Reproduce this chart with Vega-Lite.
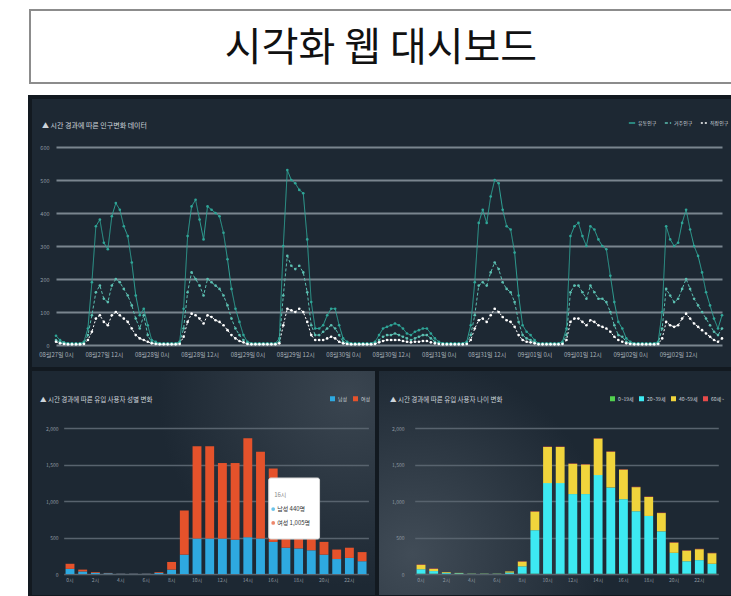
{
  "$schema": "https://vega.github.io/schema/vega-lite/v6.json",
  "background": "white",
  "padding": {"left": 28, "top": 9, "right": 0, "bottom": 0},
  "config": {
    "font": "Noto Sans CJK KR",
    "view": {"stroke": null},
    "axis": {"labelFont": "Noto Sans CJK KR", "domain": false, "ticks": false, "title": null},
    "legend": {"labelFont": "Noto Sans CJK KR"},
    "title": {"font": "Noto Sans CJK KR"}
  },
  "resolve": {"scale": {"color": "independent", "strokeDash": "independent"}, "legend": {"color": "independent", "strokeDash": "independent"}},
  "datasets": {
    "pop": [
      {"h":0,"유동인구":28,"거주인구":15,"직장인구":10},{"h":1,"유동인구":15,"거주인구":8,"직장인구":5},{"h":2,"유동인구":8,"거주인구":5,"직장인구":3},{"h":3,"유동인구":5,"거주인구":3,"직장인구":2},{"h":4,"유동인구":5,"거주인구":3,"직장인구":2},{"h":5,"유동인구":5,"거주인구":3,"직장인구":2},{"h":6,"유동인구":5,"거주인구":3,"직장인구":2},{"h":7,"유동인구":10,"거주인구":5,"직장인구":3},{"h":8,"유동인구":50,"거주인구":30,"직장인구":15},{"h":9,"유동인구":190,"거주인구":90,"직장인구":40},{"h":10,"유동인구":360,"거주인구":160,"직장인구":80},{"h":11,"유동인구":380,"거주인구":180,"직장인구":90},{"h":12,"유동인구":310,"거주인구":140,"직장인구":70},{"h":13,"유동인구":290,"거주인구":130,"직장인구":60},{"h":14,"유동인구":390,"거주인구":180,"직장인구":90},{"h":15,"유동인구":430,"거주인구":200,"직장인구":100},{"h":16,"유동인구":410,"거주인구":190,"직장인구":90},{"h":17,"유동인구":360,"거주인구":170,"직장인구":80},{"h":18,"유동인구":330,"거주인구":150,"직장인구":70},{"h":19,"유동인구":250,"거주인구":120,"직장인구":50},{"h":20,"유동인구":150,"거주인구":80,"직장인구":30},{"h":21,"유동인구":90,"거주인구":50,"직장인구":20},{"h":22,"유동인구":110,"거주인구":90,"직장인구":15},{"h":23,"유동인구":60,"거주인구":30,"직장인구":10},
      {"h":24,"유동인구":15,"거주인구":8,"직장인구":5},{"h":25,"유동인구":10,"거주인구":5,"직장인구":3},{"h":26,"유동인구":5,"거주인구":3,"직장인구":2},{"h":27,"유동인구":5,"거주인구":3,"직장인구":2},{"h":28,"유동인구":5,"거주인구":3,"직장인구":2},{"h":29,"유동인구":5,"거주인구":3,"직장인구":2},{"h":30,"유동인구":5,"거주인구":3,"직장인구":2},{"h":31,"유동인구":10,"거주인구":5,"직장인구":3},{"h":32,"유동인구":110,"거주인구":50,"직장인구":25},{"h":33,"유동인구":330,"거주인구":160,"직장인구":70},{"h":34,"유동인구":420,"거주인구":220,"직장인구":95},{"h":35,"유동인구":440,"거주인구":200,"직장인구":90},{"h":36,"유동인구":380,"거주인구":180,"직장인구":80},{"h":37,"유동인구":320,"거주인구":150,"직장인구":65},{"h":38,"유동인구":420,"거주인구":200,"직장인구":90},{"h":39,"유동인구":410,"거주인구":190,"직장인구":85},{"h":40,"유동인구":400,"거주인구":180,"직장인구":75},{"h":41,"유동인구":390,"거주인구":170,"직장인구":70},{"h":42,"유동인구":340,"거주인구":150,"직장인구":60},{"h":43,"유동인구":260,"거주인구":120,"직장인구":45},{"h":44,"유동인구":170,"거주인구":80,"직장인구":30},{"h":45,"유동인구":110,"거주인구":50,"직장인구":20},{"h":46,"유동인구":70,"거주인구":30,"직장인구":12},{"h":47,"유동인구":30,"거주인구":15,"직장인구":8},
      {"h":48,"유동인구":10,"거주인구":5,"직장인구":3},{"h":49,"유동인구":5,"거주인구":3,"직장인구":2},{"h":50,"유동인구":5,"거주인구":3,"직장인구":2},{"h":51,"유동인구":5,"거주인구":3,"직장인구":2},{"h":52,"유동인구":5,"거주인구":3,"직장인구":2},{"h":53,"유동인구":5,"거주인구":3,"직장인구":2},{"h":54,"유동인구":5,"거주인구":3,"직장인구":2},{"h":55,"유동인구":5,"거주인구":3,"직장인구":2},{"h":56,"유동인구":20,"거주인구":10,"직장인구":5},{"h":57,"유동인구":300,"거주인구":150,"직장인구":60},{"h":58,"유동인구":530,"거주인구":270,"직장인구":110},{"h":59,"유동인구":500,"거주인구":240,"직장인구":105},{"h":60,"유동인구":490,"거주인구":230,"직장인구":100},{"h":61,"유동인구":470,"거주인구":240,"직장인구":110},{"h":62,"유동인구":460,"거주인구":220,"직장인구":100},{"h":63,"유동인구":320,"거주인구":160,"직장인구":70},{"h":64,"유동인구":130,"거주인구":60,"직장인구":30},{"h":65,"유동인구":50,"거주인구":30,"직장인구":15},{"h":66,"유동인구":50,"거주인구":30,"직장인구":15},{"h":67,"유동인구":60,"거주인구":40,"직장인구":15},{"h":68,"유동인구":90,"거주인구":50,"직장인구":20},{"h":69,"유동인구":110,"거주인구":60,"직장인구":25},{"h":70,"유동인구":110,"거주인구":50,"직장인구":20},{"h":71,"유동인구":60,"거주인구":30,"직장인구":10},
      {"h":72,"유동인구":20,"거주인구":10,"직장인구":5},{"h":73,"유동인구":10,"거주인구":5,"직장인구":3},{"h":74,"유동인구":5,"거주인구":3,"직장인구":2},{"h":75,"유동인구":5,"거주인구":3,"직장인구":2},{"h":76,"유동인구":5,"거주인구":3,"직장인구":2},{"h":77,"유동인구":5,"거주인구":3,"직장인구":2},{"h":78,"유동인구":5,"거주인구":3,"직장인구":2},{"h":79,"유동인구":5,"거주인구":3,"직장인구":2},{"h":80,"유동인구":10,"거주인구":5,"직장인구":3},{"h":81,"유동인구":30,"거주인구":15,"직장인구":8},{"h":82,"유동인구":50,"거주인구":25,"직장인구":12},{"h":83,"유동인구":55,"거주인구":30,"직장인구":15},{"h":84,"유동인구":60,"거주인구":30,"직장인구":15},{"h":85,"유동인구":65,"거주인구":35,"직장인구":15},{"h":86,"유동인구":60,"거주인구":30,"직장인구":15},{"h":87,"유동인구":50,"거주인구":25,"직장인구":12},{"h":88,"유동인구":35,"거주인구":20,"직장인구":10},{"h":89,"유동인구":30,"거주인구":15,"직장인구":8},{"h":90,"유동인구":40,"거주인구":20,"직장인구":10},{"h":91,"유동인구":45,"거주인구":25,"직장인구":10},{"h":92,"유동인구":50,"거주인구":30,"직장인구":12},{"h":93,"유동인구":50,"거주인구":30,"직장인구":12},{"h":94,"유동인구":35,"거주인구":20,"직장인구":8},{"h":95,"유동인구":20,"거주인구":10,"직장인구":5},
      {"h":96,"유동인구":10,"거주인구":5,"직장인구":3},{"h":97,"유동인구":5,"거주인구":3,"직장인구":2},{"h":98,"유동인구":5,"거주인구":3,"직장인구":2},{"h":99,"유동인구":5,"거주인구":3,"직장인구":2},{"h":100,"유동인구":5,"거주인구":3,"직장인구":2},{"h":101,"유동인구":5,"거주인구":3,"직장인구":2},{"h":102,"유동인구":5,"거주인구":3,"직장인구":2},{"h":103,"유동인구":10,"거주인구":5,"직장인구":3},{"h":104,"유동인구":60,"거주인구":30,"직장인구":15},{"h":105,"유동인구":190,"거주인구":90,"직장인구":50},{"h":106,"유동인구":370,"거주인구":180,"직장인구":75},{"h":107,"유동인구":410,"거주인구":190,"직장인구":80},{"h":108,"유동인구":370,"거주인구":180,"직장인구":70},{"h":109,"유동인구":450,"거주인구":220,"직장인구":90},{"h":110,"유동인구":500,"거주인구":250,"직장인구":110},{"h":111,"유동인구":490,"거주인구":230,"직장인구":100},{"h":112,"유동인구":410,"거주인구":190,"직장인구":85},{"h":113,"유동인구":360,"거주인구":170,"직장인구":75},{"h":114,"유동인구":350,"거주인구":160,"직장인구":70},{"h":115,"유동인구":280,"거주인구":130,"직장인구":55},{"h":116,"유동인구":150,"거주인구":70,"직장인구":30},{"h":117,"유동인구":60,"거주인구":30,"직장인구":15},{"h":118,"유동인구":40,"거주인구":20,"직장인구":10},{"h":119,"유동인구":30,"거주인구":15,"직장인구":8},
      {"h":120,"유동인구":15,"거주인구":8,"직장인구":5},{"h":121,"유동인구":5,"거주인구":3,"직장인구":2},{"h":122,"유동인구":5,"거주인구":3,"직장인구":2},{"h":123,"유동인구":5,"거주인구":3,"직장인구":2},{"h":124,"유동인구":5,"거주인구":3,"직장인구":2},{"h":125,"유동인구":5,"거주인구":3,"직장인구":2},{"h":126,"유동인구":5,"거주인구":3,"직장인구":2},{"h":127,"유동인구":10,"거주인구":5,"직장인구":3},{"h":128,"유동인구":50,"거주인구":30,"직장인구":15},{"h":129,"유동인구":330,"거주인구":160,"직장인구":70},{"h":130,"유동인구":360,"거주인구":180,"직장인구":80},{"h":131,"유동인구":370,"거주인구":180,"직장인구":80},{"h":132,"유동인구":330,"거주인구":160,"직장인구":70},{"h":133,"유동인구":300,"거주인구":140,"직장인구":60},{"h":134,"유동인구":360,"거주인구":180,"직장인구":75},{"h":135,"유동인구":350,"거주인구":160,"직장인구":70},{"h":136,"유동인구":320,"거주인구":140,"직장인구":60},{"h":137,"유동인구":300,"거주인구":140,"직장인구":55},{"h":138,"유동인구":290,"거주인구":130,"직장인구":50},{"h":139,"유동인구":210,"거주인구":100,"직장인구":40},{"h":140,"유동인구":130,"거주인구":60,"직장인구":25},{"h":141,"유동인구":70,"거주인구":30,"직장인구":15},{"h":142,"유동인구":50,"거주인구":25,"직장인구":10},{"h":143,"유동인구":20,"거주인구":10,"직장인구":5},
      {"h":144,"유동인구":10,"거주인구":5,"직장인구":3},{"h":145,"유동인구":5,"거주인구":3,"직장인구":2},{"h":146,"유동인구":5,"거주인구":3,"직장인구":2},{"h":147,"유동인구":5,"거주인구":3,"직장인구":2},{"h":148,"유동인구":5,"거주인구":3,"직장인구":2},{"h":149,"유동인구":5,"거주인구":3,"직장인구":2},{"h":150,"유동인구":5,"거주인구":3,"직장인구":2},{"h":151,"유동인구":10,"거주인구":5,"직장인구":3},{"h":152,"유동인구":100,"거주인구":50,"직장인구":20},{"h":153,"유동인구":360,"거주인구":170,"직장인구":70},{"h":154,"유동인구":320,"거주인구":150,"직장인구":60},{"h":155,"유동인구":300,"거주인구":130,"직장인구":55},{"h":156,"유동인구":310,"거주인구":140,"직장인구":60},{"h":157,"유동인구":370,"거주인구":170,"직장인구":80},{"h":158,"유동인구":410,"거주인구":200,"직장인구":95},{"h":159,"유동인구":350,"거주인구":170,"직장인구":80},{"h":160,"유동인구":300,"거주인구":140,"직장인구":65},{"h":161,"유동인구":270,"거주인구":120,"직장인구":55},{"h":162,"유동인구":220,"거주인구":100,"직장인구":45},{"h":163,"유동인구":160,"거주인구":80,"직장인구":35},{"h":164,"유동인구":120,"거주인구":60,"직장인구":25},{"h":165,"유동인구":80,"거주인구":40,"직장인구":15},{"h":166,"유동인구":50,"거주인구":30,"직장인구":10},{"h":167,"유동인구":90,"거주인구":50,"직장인구":20}
    ],
    "gender": [
      {"시간":"0시","남성":70,"여성":70},{"시간":"1시","남성":35,"여성":25},{"시간":"2시","남성":15,"여성":10},{"시간":"3시","남성":10,"여성":5},{"시간":"4시","남성":3,"여성":2},{"시간":"5시","남성":3,"여성":2},{"시간":"6시","남성":3,"여성":2},{"시간":"7시","남성":15,"여성":10},{"시간":"8시","남성":60,"여성":105},{"시간":"9시","남성":265,"여성":605},{"시간":"10시","남성":485,"여성":1265},{"시간":"11시","남성":485,"여성":1265},{"시간":"12시","남성":485,"여성":1035},{"시간":"13시","남성":470,"여성":1050},{"시간":"14시","남성":505,"여성":1355},{"시간":"15시","남성":485,"여성":1190},{"시간":"16시","남성":440,"여성":1005},{"시간":"17시","남성":360,"여성":835},{"시간":"18시","남성":350,"여성":710},{"시간":"19시","남성":325,"여성":515},{"시간":"20시","남성":265,"여성":175},{"시간":"21시","남성":205,"여성":130},{"시간":"22시","남성":220,"여성":140},{"시간":"23시","남성":175,"여성":125}
    ],
    "age": [
      {"시간":"0시","0~19세":5,"20~39세":60,"40~59세":60,"60세~":5},{"시간":"1시","0~19세":5,"20~39세":35,"40~59세":30,"60세~":5},{"시간":"2시","0~19세":3,"20~39세":12,"40~59세":10,"60세~":0},{"시간":"3시","0~19세":2,"20~39세":8,"40~59세":5,"60세~":0},{"시간":"4시","0~19세":1,"20~39세":2,"40~59세":2,"60세~":0},{"시간":"5시","0~19세":1,"20~39세":2,"40~59세":2,"60세~":0},{"시간":"6시","0~19세":1,"20~39세":2,"40~59세":2,"60세~":0},{"시간":"7시","0~19세":2,"20~39세":18,"40~59세":15,"60세~":0},{"시간":"8시","0~19세":5,"20~39세":100,"40~59세":65,"60세~":5},{"시간":"9시","0~19세":5,"20~39세":595,"40~59세":255,"60세~":5},{"시간":"10시","0~19세":5,"20~39세":1240,"40~59세":495,"60세~":5},{"시간":"11시","0~19세":5,"20~39세":1240,"40~59세":495,"60세~":5},{"시간":"12시","0~19세":5,"20~39세":1090,"40~59세":415,"60세~":5},{"시간":"13시","0~19세":5,"20~39세":1090,"40~59세":405,"60세~":5},{"시간":"14시","0~19세":5,"20~39세":1350,"40~59세":500,"60세~":5},{"시간":"15시","0~19세":5,"20~39세":1180,"40~59세":490,"60세~":5},{"시간":"16시","0~19세":5,"20~39세":1020,"40~59세":405,"60세~":5},{"시간":"17시","0~19세":5,"20~39세":855,"40~59세":330,"60세~":5},{"시간":"18시","0~19세":5,"20~39세":790,"40~59세":260,"60세~":5},{"시간":"19시","0~19세":5,"20~39세":580,"40~59세":250,"60세~":5},{"시간":"20시","0~19세":5,"20~39세":285,"40~59세":140,"60세~":5},{"시간":"21시","0~19세":5,"20~39세":170,"40~59세":145,"60세~":5},{"시간":"22시","0~19세":5,"20~39세":185,"40~59세":150,"60세~":5},{"시간":"23시","0~19세":5,"20~39세":135,"40~59세":145,"60세~":5}
    ]
  },
  "spacing": 14,
  "bounds": "flush",
  "vconcat": [
    {
      "width": 702,
      "height": 73,
      "view": {"fill": "white", "stroke": "#8c8c8c", "strokeWidth": 2},
      "data": {"values": [{"제목": "시각화 웹 대시보드"}]},
      "mark": {"type": "text", "fontSize": 40, "color": "#111111", "dy": 2, "font": "Noto Sans CJK KR"},
      "encoding": {"text": {"field": "제목", "type": "nominal"}}
    },
    {
      "spacing": 0,
      "bounds": "flush",
      "resolve": {"scale": {"color": "independent", "strokeDash": "independent"}, "legend": {"color": "independent", "strokeDash": "independent"}},
      "vconcat": [
        {
          "width": 703,
          "height": 272,
          "view": {"fill": "#1d2833", "stroke": "#121920", "strokeWidth": 4},
          "title": {"text": "▲ 시간 경과에 따른 인구변화 데이터", "anchor": "start", "orient": "top", "offset": -32, "dx": 12, "fontSize": 7, "fontWeight": "normal", "color": "#cdd4da"},
          "data": {"name": "pop"},
          "transform": [{"fold": ["유동인구", "거주인구", "직장인구"], "as": ["구분", "인구"]}],
          "mark": {"type": "line", "strokeWidth": 1, "point": {"filled": true, "size": 7}},
          "encoding": {
            "x": {
              "field": "h", "type": "quantitative",
              "scale": {"domain": [0, 167], "range": [26, 692], "nice": false, "zero": false},
              "axis": {
                "orient": "bottom", "offset": -22, "grid": false, "values": [0,12,24,36,48,60,72,84,96,108,120,132,144,156],
                "labelExpr": "['08월27일 0시','08월27일 12시','08월28일 0시','08월28일 12시','08월29일 0시','08월29일 12시','08월30일 0시','08월30일 12시','08월31일 0시','08월31일 12시','09월01일 0시','09월01일 12시','09월02일 0시','09월02일 12시'][round(datum.value/12)]",
                "labelFontSize": 6, "labelColor": "#a9b2ba", "labelPadding": 4, "labelAlign": "center"
              }
            },
            "y": {
              "field": "인구", "type": "quantitative",
              "scale": {"domain": [0, 600], "range": [248, 50], "nice": false},
              "axis": {
                "orient": "left", "offset": -22, "values": [0,100,200,300,400,500,600], "grid": true,
                "gridColor": "#7a858f", "gridWidth": 2, "labelFontSize": 5.5, "labelColor": "#8f99a2", "labelPadding": 3
              }
            },
            "color": {
              "field": "구분", "type": "nominal",
              "scale": {"domain": ["유동인구", "거주인구", "직장인구"], "range": ["#2fa597", "#5bbfb1", "#ffffff"]},
              "legend": {"orient": "none", "legendX": 598, "legendY": 22, "direction": "horizontal", "title": null, "labelFontSize": 5, "labelColor": "#cdd4da", "symbolType": "stroke", "symbolSize": 40, "symbolStrokeWidth": 1.5, "labelOffset": 2, "columnPadding": 4}
            },
            "strokeDash": {
              "field": "구분", "type": "nominal",
              "scale": {"domain": ["유동인구", "거주인구", "직장인구"], "range": [[1, 0], [3, 2], [2, 2]]}
            }
          }
        },
        {
          "spacing": 0,
          "bounds": "flush",
          "resolve": {"scale": {"color": "independent"}, "legend": {"color": "independent"}},
          "hconcat": [
            {
              "width": 347,
              "height": 228,
              "view": {
                "fill": {"gradient": "radial", "x1": 0.92, "y1": 0.25, "r1": 0, "x2": 0.92, "y2": 0.25, "r2": 0.55, "stops": [{"offset": 0, "color": "#3a4550"}, {"offset": 1, "color": "#1d2833"}]},
                "stroke": "#121920", "strokeWidth": 4
              },
              "title": {"text": "▲ 시간 경과에 따른 유입 사용자 성별 변화", "anchor": "start", "orient": "top", "offset": -34, "dx": 10, "fontSize": 6.5, "fontWeight": "normal", "color": "#cdd4da"},
              "layer": [
                {
                  "data": {"name": "gender"},
                  "transform": [{"fold": ["남성", "여성"], "as": ["성별", "명"]}],
                  "mark": {"type": "bar"},
                  "encoding": {
                    "x": {
                      "field": "시간", "type": "ordinal", "sort": null,
                      "scale": {"range": [33.65, 338.45], "paddingInner": 0.3, "paddingOuter": 0.15},
                      "axis": {"orient": "bottom", "offset": -23, "labelAngle": 0, "values": ["0시","2시","4시","6시","8시","10시","12시","14시","16시","18시","20시","22시"], "labelFontSize": 5, "labelColor": "#8f99a2", "labelPadding": 3}
                    },
                    "y": {
                      "field": "명", "type": "quantitative", "stack": "zero",
                      "scale": {"domain": [0, 2000], "range": [205, 59], "nice": false},
                      "axis": {"orient": "left", "offset": -31, "values": [0,500,1000,1500,2000], "grid": true, "gridColor": "#58636e", "gridWidth": 1.5, "labelFontSize": 5, "labelColor": "#8f99a2", "labelPadding": 3}
                    },
                    "color": {
                      "field": "성별", "type": "nominal",
                      "scale": {"domain": ["남성", "여성"], "range": ["#2ea9e0", "#e5522b"]},
                      "legend": {"orient": "none", "legendX": 299, "legendY": 26, "direction": "horizontal", "title": null, "labelFontSize": 5, "labelColor": "#cdd4da", "symbolType": "square", "symbolSize": 25, "labelOffset": 2, "columnPadding": 4}
                    },
                    "order": {"field": "성별", "sort": "ascending"}
                  }
                },
                {
                  "data": {"values": [{}]},
                  "mark": {"type": "rect", "fill": "#ffffff", "stroke": "#d8d8d8", "strokeWidth": 1, "cornerRadius": 2},
                  "encoding": {
                    "x": {"datum": "16시", "type": "ordinal", "bandPosition": 0},
                    "x2": {"datum": "20시", "bandPosition": 0},
                    "y": {"datum": 1315, "type": "quantitative"},
                    "y2": {"datum": 479}
                  }
                },
                {
                  "data": {"values": [{}]},
                  "mark": {"type": "text", "align": "left", "fontSize": 6, "color": "#888888", "dx": 1},
                  "encoding": {
                    "x": {"datum": "16시", "type": "ordinal"},
                    "y": {"datum": 1082, "type": "quantitative"},
                    "text": {"value": "16시"}
                  }
                },
                {
                  "data": {"values": [{}]},
                  "mark": {"type": "point", "filled": true, "size": 14, "color": "#2ea9e0"},
                  "encoding": {
                    "x": {"datum": "16시", "type": "ordinal"},
                    "y": {"datum": 890, "type": "quantitative"}
                  }
                },
                {
                  "data": {"values": [{}]},
                  "mark": {"type": "text", "align": "left", "fontSize": 6, "color": "#333333", "dx": 4},
                  "encoding": {
                    "x": {"datum": "16시", "type": "ordinal"},
                    "y": {"datum": 890, "type": "quantitative"},
                    "text": {"value": "남성 440명"}
                  }
                },
                {
                  "data": {"values": [{}]},
                  "mark": {"type": "point", "filled": true, "size": 14, "color": "#e5522b"},
                  "encoding": {
                    "x": {"datum": "16시", "type": "ordinal"},
                    "y": {"datum": 699, "type": "quantitative"}
                  }
                },
                {
                  "data": {"values": [{}]},
                  "mark": {"type": "text", "align": "left", "fontSize": 6, "color": "#333333", "dx": 4},
                  "encoding": {
                    "x": {"datum": "16시", "type": "ordinal"},
                    "y": {"datum": 699, "type": "quantitative"},
                    "text": {"value": "여성 1,005명"}
                  }
                }
              ]
            },
            {
              "width": 356,
              "height": 228,
              "view": {
                "fill": {"gradient": "radial", "x1": 0.1, "y1": 0.7, "r1": 0, "x2": 0.1, "y2": 0.7, "r2": 0.55, "stops": [{"offset": 0, "color": "#414c57"}, {"offset": 1, "color": "#1d2833"}]},
                "stroke": "#121920", "strokeWidth": 4
              },
              "title": {"text": "▲ 시간 경과에 따른 유입 사용자 나이 변화", "anchor": "start", "orient": "top", "offset": -34, "dx": 13, "fontSize": 6.5, "fontWeight": "normal", "color": "#cdd4da"},
              "data": {"name": "age"},
              "transform": [{"fold": ["0~19세", "20~39세", "40~59세", "60세~"], "as": ["나이", "명"]}],
              "mark": {"type": "bar"},
              "encoding": {
                "x": {
                  "field": "시간", "type": "ordinal", "sort": null,
                  "scale": {"range": [37.7, 341.3], "paddingInner": 0.3, "paddingOuter": 0.15},
                  "axis": {"orient": "bottom", "offset": -23, "labelAngle": 0, "values": ["0시","2시","4시","6시","8시","10시","12시","14시","16시","18시","20시","22시"], "labelFontSize": 5, "labelColor": "#8f99a2", "labelPadding": 3}
                },
                "y": {
                  "field": "명", "type": "quantitative", "stack": "zero",
                  "scale": {"domain": [0, 2000], "range": [205, 59], "nice": false},
                  "axis": {"orient": "left", "offset": -30, "values": [0,500,1000,1500,2000], "grid": true, "gridColor": "#58636e", "gridWidth": 1.5, "labelFontSize": 5, "labelColor": "#8f99a2", "labelPadding": 3}
                },
                "color": {
                  "field": "나이", "type": "nominal",
                  "scale": {"domain": ["0~19세", "20~39세", "40~59세", "60세~"], "range": ["#52d14f", "#3de9f2", "#f0d43c", "#e64a4a"]},
                  "legend": {"orient": "none", "legendX": 232, "legendY": 26, "direction": "horizontal", "title": null, "labelFontSize": 5, "labelColor": "#cdd4da", "symbolType": "square", "symbolSize": 25, "labelOffset": 2, "columnPadding": 4}
                },
                "order": {"field": "나이", "sort": "ascending"}
              }
            }
          ]
        }
      ]
    }
  ]
}
